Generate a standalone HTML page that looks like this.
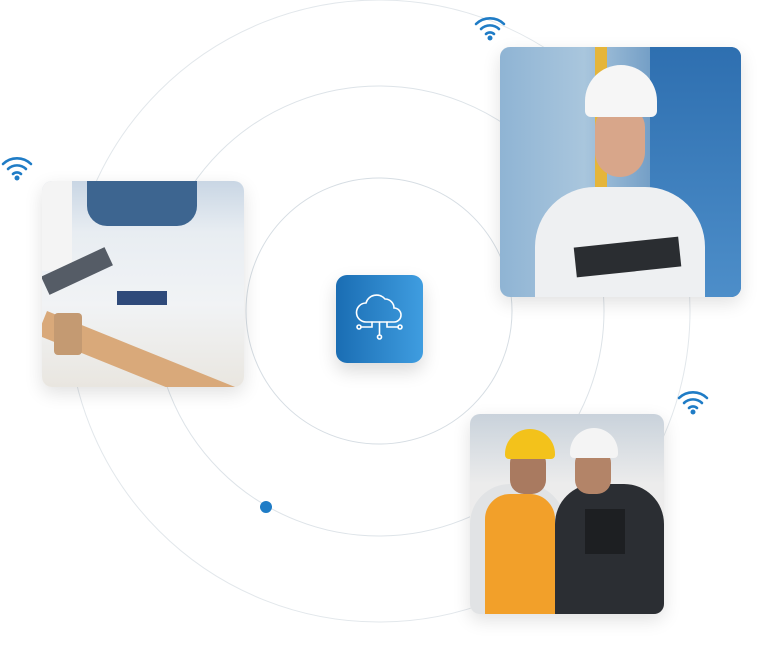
<!DOCTYPE html>
<html><head><style>
body{margin:0;width:776px;height:655px;background:#fff;position:relative;overflow:hidden;font-family:"Liberation Sans",sans-serif}
.ph{position:absolute;border-radius:10px;overflow:hidden;box-shadow:0 6px 18px rgba(0,0,0,.12)}
</style></head><body>
<svg width="776" height="655" style="position:absolute;left:0;top:0">
<circle cx="379" cy="311" r="133" fill="none" stroke="#d6dde3" stroke-width="1"/>
<circle cx="379" cy="311" r="225" fill="none" stroke="#dde3e8" stroke-width="1"/>
<circle cx="379" cy="311" r="311" fill="none" stroke="#e2e7eb" stroke-width="1"/>
<circle cx="266" cy="507" r="6" fill="#1f7cc6"/>
<g fill="none" stroke="#1f7cc6" stroke-width="2.6" stroke-linecap="round">
<g transform="translate(17,170)"><path d="M-14,-6 A20,20 0 0 1 14,-6"/><path d="M-9,-1 A13,13 0 0 1 9,-1"/><path d="M-4,4 A6,6 0 0 1 4,4"/></g>
<g transform="translate(490,30)"><path d="M-14,-6 A20,20 0 0 1 14,-6"/><path d="M-9,-1 A13,13 0 0 1 9,-1"/><path d="M-4,4 A6,6 0 0 1 4,4"/></g>
<g transform="translate(693,404)"><path d="M-14,-6 A20,20 0 0 1 14,-6"/><path d="M-9,-1 A13,13 0 0 1 9,-1"/><path d="M-4,4 A6,6 0 0 1 4,4"/></g>
</g>
<g fill="#1f7cc6"><circle cx="17" cy="178" r="2.5"/><circle cx="490" cy="38" r="2.5"/><circle cx="693" cy="412" r="2.5"/></g>
</svg>

<!-- left photo -->
<div class="ph" style="left:42px;top:181px;width:202px;height:206px;background:linear-gradient(180deg,#c9d6e4 0%,#e8edf2 25%,#f1f3f5 60%,#e9e6e0 100%)">
<div style="position:absolute;left:45px;top:0;width:110px;height:45px;background:#3d6590;border-radius:0 0 20px 20px"></div>
<div style="position:absolute;left:0;top:0;width:30px;height:90px;background:#f4f4f4"></div>
<div style="position:absolute;left:0;top:80px;width:70px;height:20px;background:#555c66;transform:rotate(-25deg)"></div>
<div style="position:absolute;left:5px;top:130px;width:220px;height:26px;background:#d9a97a;transform:rotate(22deg);transform-origin:0 0"></div>
<div style="position:absolute;left:12px;top:132px;width:28px;height:42px;background:#c49a72;border-radius:4px"></div>
<div style="position:absolute;left:75px;top:110px;width:50px;height:14px;background:#2f4a7a"></div>
</div>

<!-- top right photo -->
<div class="ph" style="left:500px;top:47px;width:241px;height:250px;background:linear-gradient(90deg,#8fb4d4 0%,#a9c6dd 35%,#6f9bc4 65%,#2f6aa8 100%)">
<div style="position:absolute;left:150px;top:0;width:91px;height:250px;background:linear-gradient(180deg,#2e6fb0,#4d8ec9)"></div>
<div style="position:absolute;left:95px;top:0;width:12px;height:250px;background:#e5b53a"></div>
<div style="position:absolute;left:35px;top:140px;width:170px;height:110px;background:#eef0f2;border-radius:60px 60px 0 0"></div>
<div style="position:absolute;left:95px;top:60px;width:50px;height:70px;background:#d8a68a;border-radius:20px 20px 25px 25px"></div>
<div style="position:absolute;left:85px;top:18px;width:72px;height:52px;background:#f6f6f6;border-radius:36px 36px 6px 6px"></div>
<div style="position:absolute;left:75px;top:195px;width:105px;height:30px;background:#2a2d31;transform:rotate(-6deg)"></div>
</div>

<!-- bottom right photo -->
<div class="ph" style="left:470px;top:414px;width:194px;height:200px;background:linear-gradient(180deg,#c9d2db 0%,#ececec 35%,#f1efec 100%)">
<div style="position:absolute;left:0;top:70px;width:95px;height:130px;background:#e1e3e5;border-radius:40px 40px 0 0"></div>
<div style="position:absolute;left:15px;top:80px;width:70px;height:120px;background:#f2a02a;border-radius:25px 25px 0 0"></div>
<div style="position:absolute;left:85px;top:70px;width:109px;height:130px;background:#2b2e33;border-radius:40px 40px 0 0"></div>
<div style="position:absolute;left:40px;top:35px;width:36px;height:45px;background:#a97a60;border-radius:14px"></div>
<div style="position:absolute;left:105px;top:35px;width:36px;height:45px;background:#b38468;border-radius:14px"></div>
<div style="position:absolute;left:35px;top:15px;width:50px;height:30px;background:#f3c21b;border-radius:25px 25px 4px 4px"></div>
<div style="position:absolute;left:100px;top:14px;width:48px;height:30px;background:#f4f4f4;border-radius:24px 24px 4px 4px"></div>
<div style="position:absolute;left:115px;top:95px;width:40px;height:45px;background:#1d1f22"></div>
</div>

<!-- center icon -->
<div style="position:absolute;left:336px;top:275px;width:87px;height:88px;border-radius:11px;background:linear-gradient(90deg,#1a6db3,#3f9de0);box-shadow:0 8px 18px rgba(0,0,0,.15)">
<svg width="87" height="88" fill="none" stroke="#fff" stroke-width="1.6" stroke-linecap="round">
<path d="M30,47 h28 a7,7 0 0 0 0,-14 a9,9 0 0 0 -9,-9 a11,11 0 0 0 -19,4 a7,7 0 0 0 0,19z"/>
<path d="M43.5,47 v13 M36,47 v5 h-11 M51,47 v5 h11"/>
<circle cx="43.5" cy="62" r="2"/><circle cx="23" cy="52" r="2"/><circle cx="64" cy="52" r="2"/>
</svg></div>
</body></html>
